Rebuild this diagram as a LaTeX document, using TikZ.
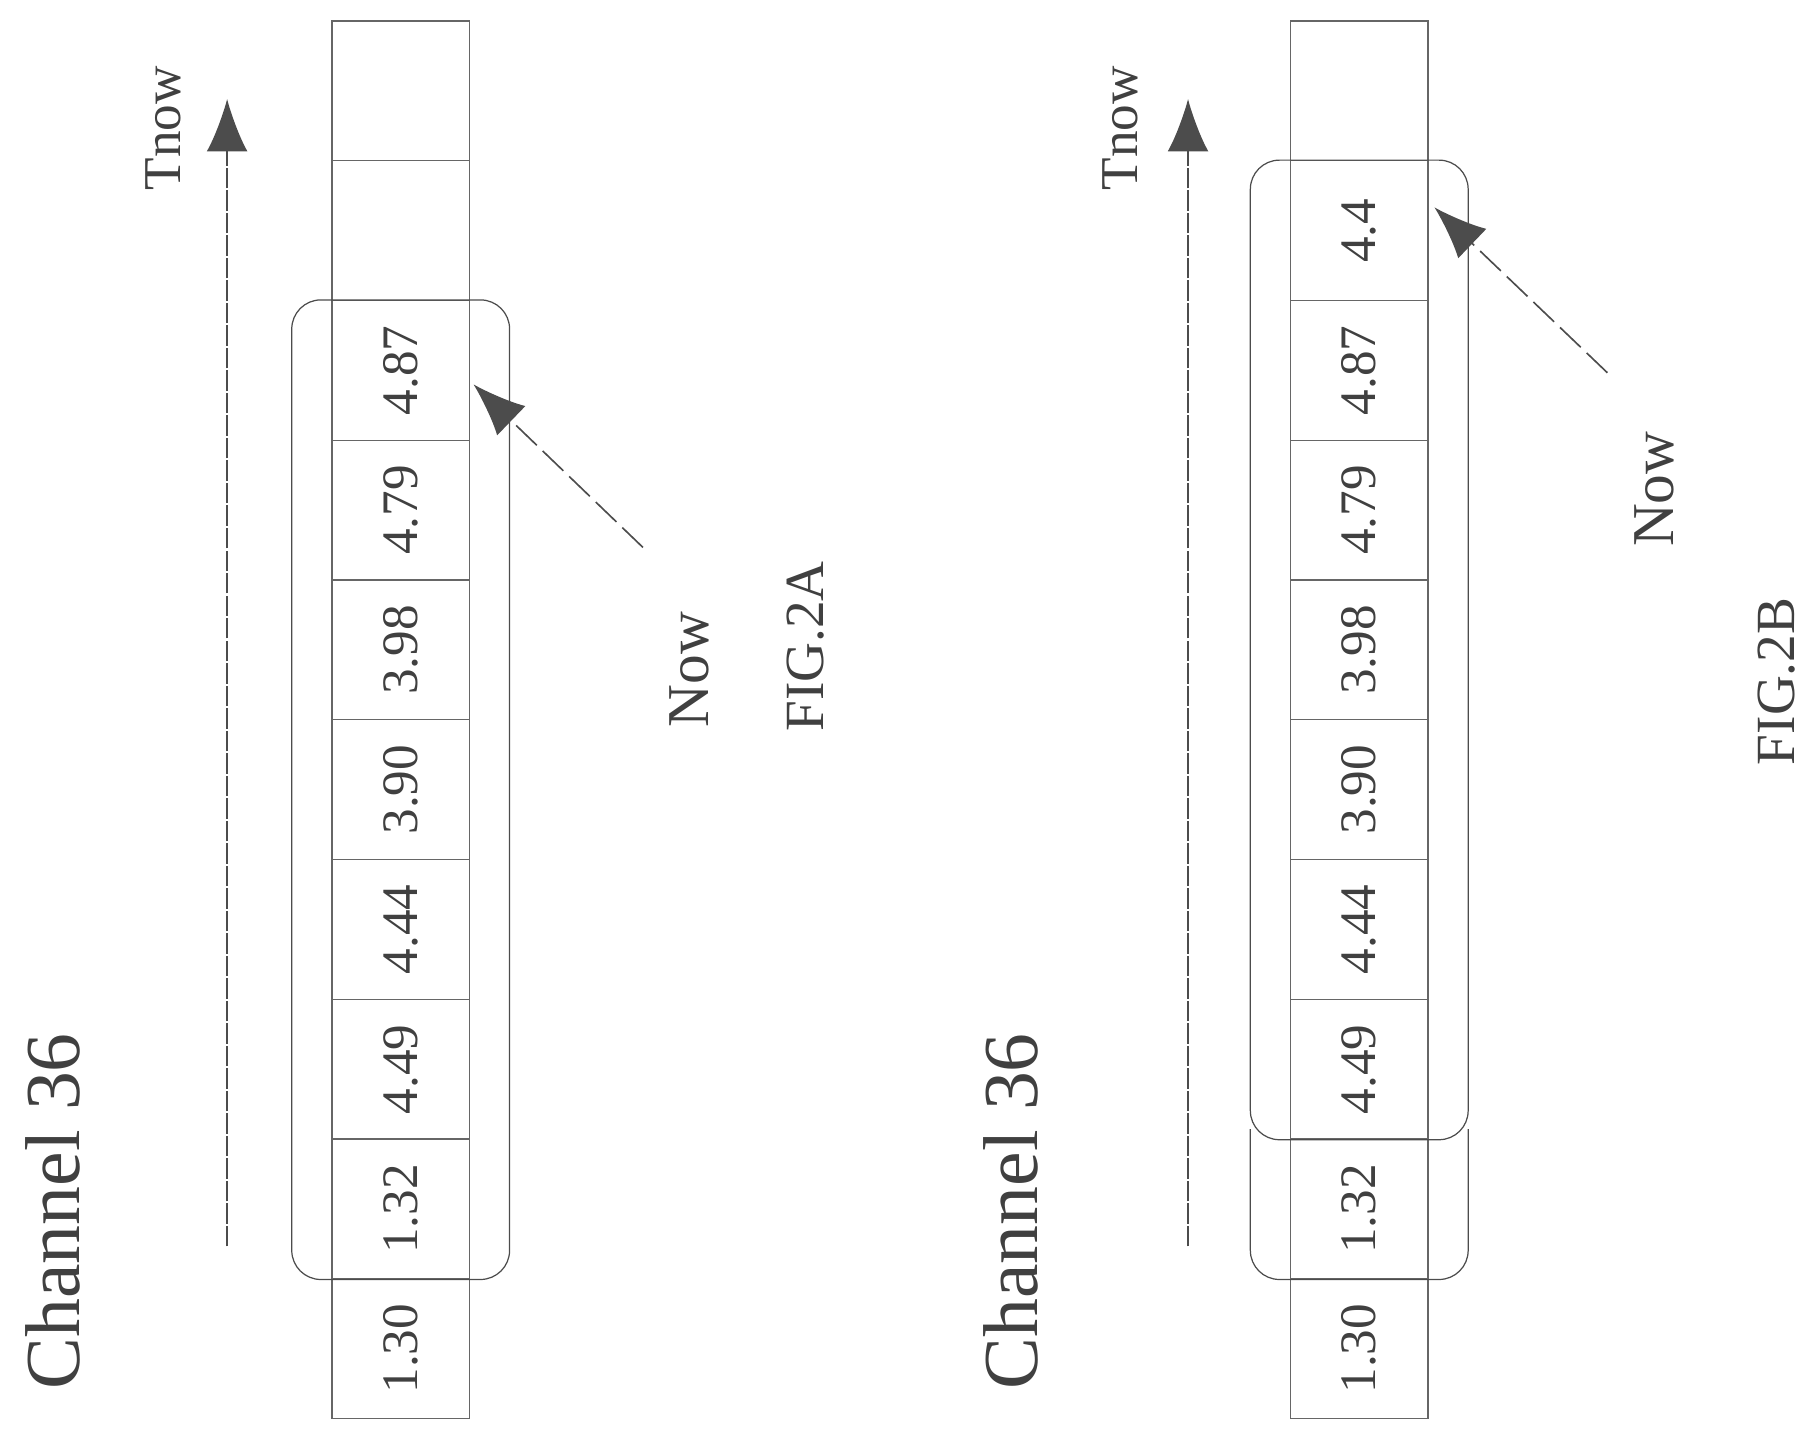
\documentclass[tikz,border=0pt]{standalone}
\usepackage{fontspec}
\setmainfont{Liberation Serif}
\usetikzlibrary{arrows.meta, fit}
\tikzset{
  cell/.style={draw=gray!80!black, semithick, rotate=90, minimum width=2.4cm, minimum height=2.36cm, inner sep=0pt, font=\fontsize{25}{25}\selectfont, text=black!75},
  win/.style={draw=black!70, semithick, rounded corners=0.5cm, inner xsep=0.68cm, inner ysep=0pt},
  time/.style={-{Latex[length=0.9cm, width=0.7cm]}, black!70, thick, dash pattern=on 10pt off 1pt},
  now/.style={-{Latex[length=0.9cm, width=0.7cm]}, black!70, thick, dash pattern=on 14pt off 4pt},
  lbl/.style={rotate=90, text=black!75}
}
\begin{document}
\begin{tikzpicture}[x=0.02cm, y=-0.02cm]
    \useasboundingbox (0,0) rectangle (1560,1240);

    % Cells.
    \foreach \v [count=\k from 0] in {{}, {}, 4.87, 4.79, 3.98, 3.90, 4.44, 4.49, 1.32, 1.30} {
        \node (a\k) [cell] at (344, 78+120*\k) {\v};
    }
    \foreach \v [count=\k from 0] in {{}, 4.4, 4.87, 4.79, 3.98, 3.90, 4.44, 4.49, 1.32, 1.30} {
        \node (b\k) [cell] at (1167, 78+120*\k) {\v};
    }

    % Windows.
    \node (winA) [win, fit=(a2)(a8)] {};
    \node (winB) [win, fit=(b1)(b7)] {};
    \begin{scope}
        \clip (1000, 970) rectangle (1300, 1200);
        \node (winC) [win, fit=(b2)(b8)] {};
    \end{scope}

    % Labels.
    \node (chA) [lbl, font=\fontsize{38}{38}\selectfont] at (45, 1040) {Channel 36};
    \node (chB) [lbl, font=\fontsize{38}{38}\selectfont] at (868, 1040) {Channel 36};
    \node (tA) [lbl, font=\fontsize{26}{26}\selectfont] at (140, 110) {Tnow};
    \node (tB) [lbl, font=\fontsize{26}{26}\selectfont] at (962, 110) {Tnow};
    \node (nowA) [lbl, font=\fontsize{29}{29}\selectfont] at (592, 575) {Now};
    \node (nowB) [lbl, font=\fontsize{29}{29}\selectfont] at (1420, 420) {Now};
    \node (figA) [lbl, font=\fontsize{27}{27}\selectfont] at (692, 555) {FIG.2A};
    \node (figB) [lbl, font=\fontsize{27}{27}\selectfont] at (1525, 585) {FIG.2B};

    % Arrows.
    \coordinate (sA) at (195, 1070);
    \coordinate (eA) at (195, 85);
    \coordinate (sB) at (1020, 1070);
    \coordinate (eB) at (1020, 85);
    \draw [time] (sA) -- (eA);
    \draw [time] (sB) -- (eB);
    \coordinate (pA) at (552, 470);
    \coordinate (pB) at (1380, 320);
    \draw [now] (pA) -- ([shift={(3,12)}]a2.south);
    \draw [now] (pB) -- ([shift={(5,-20)}]b1.south);
\end{tikzpicture}
\end{document}
